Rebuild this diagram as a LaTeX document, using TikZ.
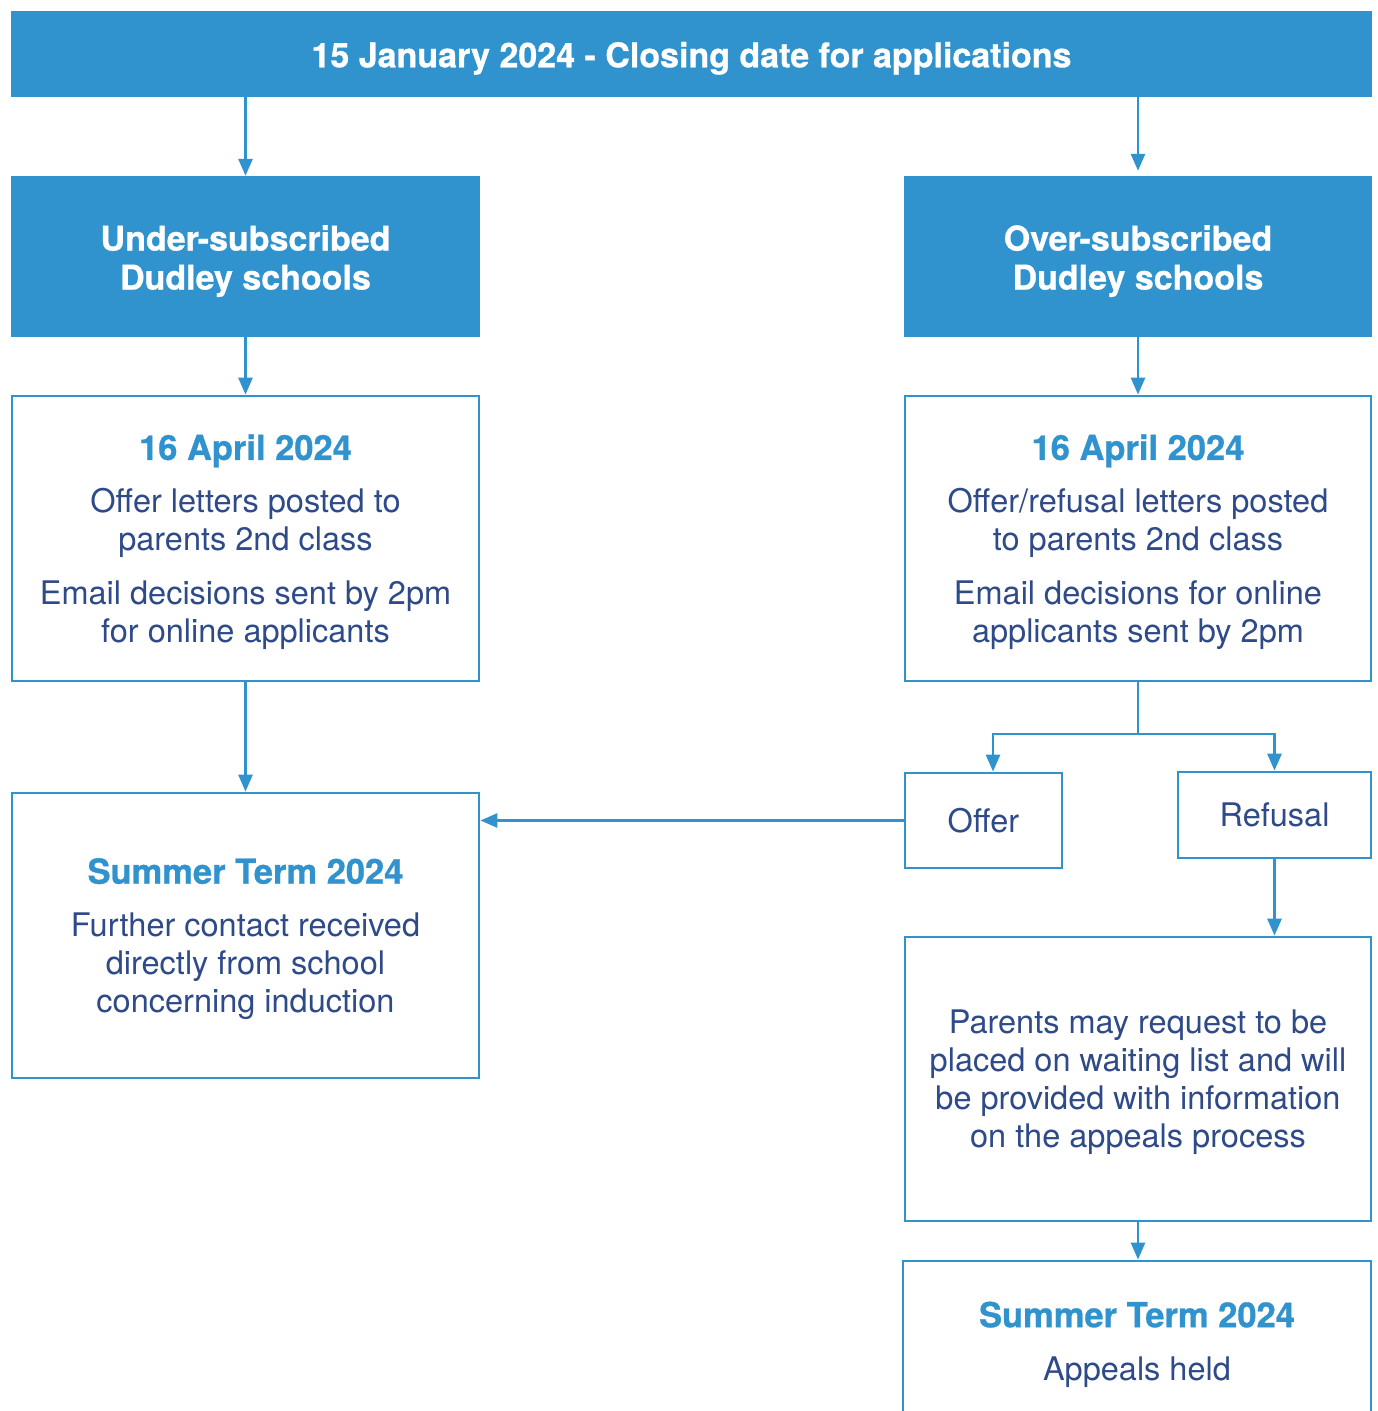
\documentclass[tikz,border=0pt]{standalone}
\usepackage{fontspec}
\setmainfont{TeX Gyre Heros}[BoldFeatures={FakeBold=0.8}]
\usetikzlibrary{arrows.meta}
\definecolor{dblue}{HTML}{3193CD}
\definecolor{navy}{HTML}{2E4A88}
\newcommand\ttl[1]{{\color{dblue}\bfseries\fontsize{34.5}{38}\selectfont #1}}
\newcommand\dn[1]{\rule{0pt}{#1}}
\begin{document}
\begin{tikzpicture}[x=1pt,y=-1pt,
  fillbox/.style={fill=dblue, draw=none, text=white, font=\bfseries\fontsize{34}{39}\selectfont, align=center, inner sep=0pt},
  outbox/.style={draw=dblue, line width=2.8pt, fill=white, text=navy, align=center, font=\fontsize{32.5}{38}\selectfont, inner sep=0pt},
  conn/.style={draw=dblue, line width=2.8pt},
  arr/.style={conn, -{Triangle[width=14pt,length=17pt]}}]
\useasboundingbox (0,0) rectangle (1378,1411);
\clip (0,0) rectangle (1378,1411);
\node[fillbox, minimum width=1361pt, minimum height=86pt] (top) at (691.5,54) {\dn{34pt}15 January 2024 - Closing date for applications};
\node[fillbox, minimum width=469pt, minimum height=161pt] (under) at (245.5,256.5) {\dn{34.5pt}Under-subscribed\\Dudley schools};
\node[fillbox, minimum width=468pt, minimum height=161pt] (over) at (1138,256.5) {\dn{34.5pt}Over-subscribed\\Dudley schools};
\node[outbox, minimum width=467pt, minimum height=285pt] (l2) at (245.5,538.5) {\dn{33pt}\ttl{16 April 2024}\\[15pt]Offer letters posted to\\parents 2nd class\\[16pt]Email decisions sent by 2pm\\for online applicants};
\node[outbox, minimum width=466pt, minimum height=285pt] (r2) at (1138,538.5) {\dn{33pt}\ttl{16 April 2024}\\[15pt]Offer/refusal letters posted\\to parents 2nd class\\[16pt]Email decisions for online\\applicants sent by 2pm};
\node[outbox, minimum width=467pt, minimum height=285pt] (suml) at (245.5,935.5) {\dn{32.5pt}\ttl{Summer Term 2024}\\[15pt]Further contact received\\directly from school\\concerning induction};
\node[outbox, minimum width=157pt, minimum height=95pt] (offer) at (983.5,820.5) {Offer};
\node[outbox, minimum width=193pt, minimum height=86pt] (refusal) at (1274.5,815) {Refusal};
\node[outbox, minimum width=466pt, minimum height=284pt] (wait) at (1138,1079) {\dn{29.5pt}Parents may request to be\\placed on waiting list and will\\be provided with information\\on the appeals process};
\node[outbox, minimum width=468pt, minimum height=160pt] (appeal) at (1137,1341) {\dn{32.5pt}\ttl{Summer Term 2024}\\[15pt]Appeals held};
\coordinate (split) at (1138,734);
\draw[arr] (top.south -| under.north) -- (under.north);
\draw[arr] (top.south -| over.north) -- ([yshift=5pt]over.north);
\draw[arr] (under.south) -- (l2.north);
\draw[arr] (over.south) -- (r2.north);
\draw[arr] (l2.south) -- (suml.north);
\draw[conn] (r2.south) -- (split);
\draw[arr] (split) -| ([xshift=9.5pt]offer.north);
\draw[arr] (split) -| (refusal.north);
\draw[arr] (offer.west) -- (offer.west -| suml.east);
\draw[arr] (refusal.south) -- (refusal.south |- wait.north);
\draw[arr] (wait.south) -- (wait.south |- appeal.north);
\end{tikzpicture}
\end{document}
